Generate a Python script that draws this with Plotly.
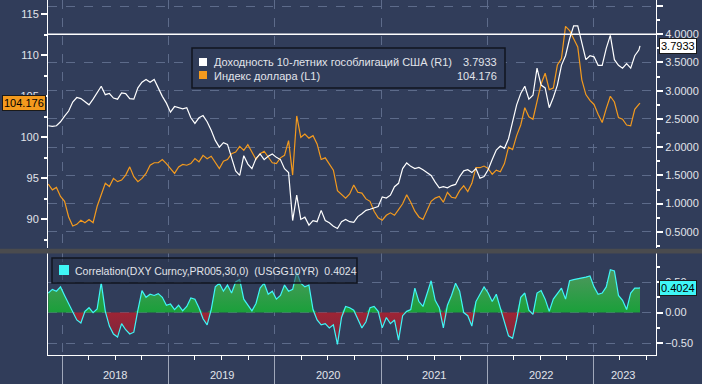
import plotly.graph_objects as go
import pandas as pd
import numpy as np

# ---------------- data (~2-week spacing) ----------------
start_date = "2017-11-13"
last_date = "2023-06-09"

dxy = [
    94.3, 93.6, 93.9, 92.8, 92.2, 90.3, 89.2, 89.4, 89.9, 89.6,
    90.0, 89.6, 91.6, 92.9, 94.4, 94.0, 95.0, 94.6, 94.8, 95.4,
    96.4, 95.2, 94.6, 95.0, 95.6, 96.6, 96.9, 96.9, 97.3, 96.8,
    96.2, 95.6, 96.4, 96.7, 96.6, 96.8, 97.4, 97.0, 97.8, 97.4,
    97.7, 96.9, 96.2, 97.1, 97.3, 98.0, 98.2, 98.9, 98.4, 99.1,
    98.1, 97.3, 98.0, 98.3, 97.6, 96.9, 96.8, 97.5, 97.8, 99.6,
    95.4, 102.6, 100.0, 100.4, 99.9, 100.2, 99.2, 97.3, 97.5, 96.8,
    96.0, 93.5, 93.0, 92.6, 93.1, 94.2, 93.3, 93.2, 92.5, 92.2,
    91.0, 90.2, 89.9, 90.5, 90.8, 90.5, 91.2, 91.9, 93.0, 92.1,
    91.0, 90.3, 90.0, 91.0, 92.2, 92.6, 92.8, 92.1, 93.3, 92.7,
    92.6, 93.5, 94.1, 93.4, 94.4, 96.3, 96.3, 96.5, 96.2, 95.5,
    96.0, 95.8, 96.8, 98.8, 98.5, 100.2, 101.5, 103.6, 102.5, 102.2,
    104.5, 106.5, 107.8, 105.8, 106.0, 108.8, 109.6, 113.5, 113.0, 111.9,
    111.0, 107.0, 105.2, 104.5, 104.0, 102.8, 101.8, 103.5, 105.0, 104.3,
    102.4, 102.2, 101.5, 101.4, 103.4, 104.0,
    104.176,
]

ust10 = [
    2.38, 2.37, 2.38, 2.45, 2.55, 2.64, 2.80, 2.88, 2.86, 2.80,
    2.75, 2.85, 2.96, 3.08, 2.93, 2.95, 2.87, 2.85, 2.96, 2.95,
    2.86, 2.85, 3.05, 3.15, 3.20, 3.15, 3.20, 3.04, 2.90, 2.78,
    2.62, 2.72, 2.70, 2.68, 2.70, 2.52, 2.42, 2.52, 2.56, 2.45,
    2.30, 2.12, 2.00, 2.08, 2.05, 1.80, 1.58, 1.50, 1.85, 1.70,
    1.62, 1.80, 1.88, 1.78, 1.84, 1.88, 1.82, 1.78, 1.62, 1.55,
    0.70, 1.15, 0.72, 0.76, 0.62, 0.70, 0.68, 0.88, 0.70, 0.66,
    0.60, 0.56, 0.68, 0.72, 0.68, 0.67, 0.77, 0.82, 0.88, 0.90,
    0.92, 0.95, 1.12, 1.10, 1.15, 1.30, 1.36, 1.62, 1.72, 1.66,
    1.62, 1.64, 1.60, 1.55, 1.50, 1.38, 1.28, 1.30, 1.28, 1.32,
    1.34, 1.48, 1.58, 1.60, 1.55, 1.62, 1.45, 1.48, 1.60, 1.78,
    1.95, 2.02, 1.98, 2.15, 2.45, 2.75, 2.95, 3.08, 2.85, 2.92,
    3.40, 3.10, 3.05, 2.70, 2.88, 3.10, 3.45, 3.62, 3.92, 4.15,
    4.15, 3.82, 3.55, 3.62, 3.60, 3.45, 3.45, 3.75, 3.98, 3.55,
    3.45, 3.40, 3.48, 3.40, 3.62, 3.72,
    3.7933,
]

corr = [
    0.32, 0.38, 0.35, 0.42, 0.28, 0.15, 0.00, -0.12, -0.17, 0.02,
    0.08, 0.00, 0.06, 0.49, 0.02, -0.22, -0.35, -0.40, -0.18, -0.28,
    -0.35, -0.32, 0.04, 0.36, 0.25, 0.30, 0.28, 0.31, 0.25, 0.12,
    0.14, 0.05, 0.12, 0.03, 0.10, 0.24, 0.22, 0.08, -0.10, -0.20,
    0.05, 0.42, 0.48, 0.35, 0.45, 0.32, 0.50, 0.54, 0.22, 0.12,
    0.03, 0.15, 0.40, 0.48, 0.30, 0.35, 0.22, 0.28, 0.45, 0.35,
    0.38, 0.66, 0.48, 0.42, 0.45, 0.05, -0.12, -0.20, -0.18, -0.25,
    -0.20, -0.52, -0.08, 0.10, 0.08, 0.04, -0.10, -0.25, -0.15, 0.08,
    0.10, 0.02, -0.25, -0.08, -0.18, -0.12, -0.45, -0.05, 0.02, 0.05,
    0.40, 0.18, 0.10, 0.30, 0.52, 0.20, 0.08, -0.25, 0.12, 0.28,
    0.48, 0.35, 0.00, -0.05, -0.22, 0.18, 0.30, 0.42, 0.32, 0.18,
    0.30, 0.08, -0.15, -0.38, -0.42, -0.12, 0.25, 0.32, 0.04, -0.03,
    0.32, 0.36, 0.22, 0.02, 0.22, 0.32, 0.40, 0.22, 0.52, 0.54,
    0.55, 0.56, 0.58, 0.60, 0.42, 0.30, 0.32, 0.42, 0.70, 0.68,
    0.28, 0.20, 0.05, 0.32, 0.40, 0.40,
    0.4024,
]

years = ["2018", "2019", "2020", "2021", "2022", "2023"]
year_starts = [f"{y}-01-01" for y in years]
year_label_pos = ["2018-07-02", "2019-07-02", "2020-07-02", "2021-07-02", "2022-07-02", "2023-04-13"]
quarter_ticks = [f"{y}-{m}-01" for y in range(2018, 2024) for m in ("04", "07", "10")]

legend_ust = "Доходность 10-летних гособлигаций США (R1)"
legend_dxy = "Индекс доллара (L1)"
legend_corr = "Correlation(DXY Curncy,PR005,30,0)  (USGG10YR)  0.4024"
last_ust = "3.7933"
last_dxy = "104.176"
last_corr = "0.4024"

n = min(len(dxy), len(ust10), len(corr))
dxy, ust10, corr = dxy[:n], ust10[:n], corr[:n]
dates = list(pd.date_range(start_date, periods=n - 1, freq="14D")) + [pd.Timestamp(last_date)]

# ---------------- style ----------------
BG = "#313d5a"
GRID = "#5d6b8a"
TXT = "#e1e4ea"
ORANGE = "#f39a1e"
CYAN = "#3ff6f6"
FONT = "Liberation Sans"

W, H = 702, 384
L, R, T, B = 48, 46, 0, 29
PW, PH = W - L - R, H - T - B


def px(x):
    return (x - L) / PW


def py(y):
    return (H - B - y) / PH


fig = go.Figure()

# top panel
fig.add_trace(go.Scatter(x=dates, y=dxy, xaxis="x2", yaxis="y", mode="lines",
                         line=dict(color=ORANGE, width=1.2), hoverinfo="skip"))
fig.add_trace(go.Scatter(x=dates, y=ust10, xaxis="x2", yaxis="y2", mode="lines",
                         line=dict(color="white", width=1.2), hoverinfo="skip"))

# bottom panel
c = np.array(corr)
fig.add_trace(go.Scatter(
    x=dates, y=np.maximum(c, 0), xaxis="x", yaxis="y3", mode="lines",
    fill="tozeroy", fillcolor="rgb(46,152,66)",
    fillgradient=dict(type="vertical", start=0, stop=0.72,
                      colorscale=[[0, "rgb(26,160,58)"], [1, "rgb(82,150,96)"]]),
    line=dict(width=0), hoverinfo="skip"))
fig.add_trace(go.Scatter(
    x=dates, y=np.minimum(c, 0), xaxis="x", yaxis="y3", mode="lines",
    fill="tozeroy", fillcolor="rgb(140,36,52)",
    fillgradient=dict(type="vertical", start=-0.55, stop=0,
                      colorscale=[[0, "rgb(110,40,66)"], [1, "rgb(158,36,52)"]]),
    line=dict(width=0), hoverinfo="skip"))
fig.add_trace(go.Scatter(x=dates, y=corr, xaxis="x", yaxis="y3", mode="lines",
                         line=dict(color=CYAN, width=1.2), hoverinfo="skip"))

x_range = ["2017-11-12", "2023-08-03"]
tickfont = dict(family=FONT, size=11, color=TXT)

fig.update_layout(
    width=W, height=H,
    margin=dict(l=L, r=R, t=T, b=B, autoexpand=False),
    paper_bgcolor=BG, plot_bgcolor=BG,
    showlegend=False,
    font=dict(family=FONT, size=11, color=TXT),
    xaxis=dict(
        type="date", range=x_range, domain=[0, 1], anchor="y3",
        showline=True, linecolor="white", linewidth=1,
        tickmode="array", tickvals=year_starts, showticklabels=False,
        ticks="outside", ticklen=29, tickcolor="#a0a8ba", tickwidth=1,
        showgrid=True, gridcolor=GRID, griddash="dash", gridwidth=1,
        minor=dict(tickmode="array", tickvals=quarter_ticks, ticks="outside",
                   ticklen=4, tickcolor="white", tickwidth=1, showgrid=False),
        zeroline=False,
    ),
    xaxis2=dict(
        type="date", range=x_range, domain=[0, 1], anchor="y", matches="x",
        showline=False, tickmode="array", tickvals=year_starts,
        showticklabels=False, ticks="",
        showgrid=True, gridcolor=GRID, griddash="dash", gridwidth=1,
        zeroline=False,
    ),
    yaxis=dict(
        domain=[py(248), 1], anchor="x2", side="left",
        range=[86.52, 116.72], tickmode="array", tickvals=[90, 95, 100, 105, 110, 115],
        ticks="outside", ticklen=6, tickwidth=2, tickcolor="white",
        showline=True, linecolor="white", linewidth=1,
        showgrid=False, zeroline=False, tickfont=tickfont,
        minor=dict(tickmode="linear", tick0=87.5, dtick=5, ticks="outside",
                   ticklen=3, tickcolor="white", showgrid=False),
    ),
    yaxis2=dict(
        domain=[py(248), 1], anchor="x2", overlaying="y", side="right",
        range=[0.214, 4.607], tickmode="linear", tick0=0, dtick=0.5, tickformat=".4f",
        ticks="outside", ticklen=6, tickwidth=2, tickcolor="white",
        showline=True, linecolor="white", linewidth=1,
        showgrid=True, gridcolor=GRID, griddash="dash", gridwidth=1,
        zeroline=False, tickfont=tickfont,
        minor=dict(tickmode="linear", tick0=0.25, dtick=0.5, ticks="outside",
                   ticklen=3, tickcolor="white", showgrid=False),
    ),
    yaxis3=dict(
        domain=[0, py(253)], anchor="x", side="right",
        range=[-0.693, 0.974], tickmode="array", tickvals=[-0.5, 0, 0.5], tickformat=".2f",
        ticks="outside", ticklen=6, tickwidth=2, tickcolor="white",
        showline=True, linecolor="white", linewidth=1, mirror=True,
        showgrid=True, gridcolor=GRID, griddash="dash", gridwidth=1,
        zeroline=False, tickfont=tickfont,
        minor=dict(tickmode="array", tickvals=[-0.25, 0.25, 0.75], ticks="outside",
                   ticklen=3, tickcolor="white", showgrid=False),
    ),
)

shapes = [
    # white reference line at 4.0 (right scale)
    dict(type="line", xref="paper", x0=0, x1=1, yref="y2", y0=4.0, y1=4.0,
         line=dict(color="white", width=1.5)),
    # separator between panels
    dict(type="rect", xref="paper", x0=-L / PW, x1=1 + R / PW, yref="paper",
         y0=py(253.5), y1=py(248.8), fillcolor="#4a4b4e", line=dict(width=0)),
    # top legend box
    dict(type="rect", xref="paper", yref="paper", x0=px(192), x1=px(505),
         y0=py(88), y1=py(48), fillcolor=BG, line=dict(color="#10151f", width=1.5)),
    dict(type="rect", xref="paper", yref="paper", x0=px(199), x1=px(207),
         y0=py(66), y1=py(58), fillcolor="white", line=dict(width=0)),
    dict(type="rect", xref="paper", yref="paper", x0=px(199), x1=px(207),
         y0=py(79), y1=py(71), fillcolor=ORANGE, line=dict(width=0)),
    # bottom legend box
    dict(type="rect", xref="paper", yref="paper", x0=px(52), x1=px(357),
         y0=py(283), y1=py(258), fillcolor="rgba(40,52,78,0.55)",
         line=dict(color="#10151f", width=1.5)),
    dict(type="rect", xref="paper", yref="paper", x0=px(59), x1=px(69),
         y0=py(275), y1=py(265), fillcolor=CYAN, line=dict(width=0)),
]
fig.update_layout(shapes=shapes)

ann = [
    dict(xref="paper", yref="paper", x=px(212), y=py(62.5), xanchor="left", yanchor="middle",
         text=legend_ust, showarrow=False, font=dict(family=FONT, size=11, color=TXT)),
    dict(xref="paper", yref="paper", x=px(499), y=py(62.5), xanchor="right", yanchor="middle",
         text=last_ust, showarrow=False, font=dict(family=FONT, size=11, color=TXT)),
    dict(xref="paper", yref="paper", x=px(212), y=py(75.5), xanchor="left", yanchor="middle",
         text=legend_dxy, showarrow=False, font=dict(family=FONT, size=11, color=TXT)),
    dict(xref="paper", yref="paper", x=px(499), y=py(75.5), xanchor="right", yanchor="middle",
         text=last_dxy, showarrow=False, font=dict(family=FONT, size=11, color=TXT)),
    dict(xref="paper", yref="paper", x=px(73), y=py(270.5), xanchor="left", yanchor="middle",
         text=legend_corr, showarrow=False, font=dict(family=FONT, size=10.5, color=TXT)),
    # price tags
    dict(xref="paper", yref="y", x=px(46), y=dxy[-1], xanchor="right", yanchor="middle",
         text=last_dxy, showarrow=False, bgcolor=ORANGE, bordercolor="#1a1a1a", borderwidth=1,
         borderpad=1, font=dict(family=FONT, size=11, color="black")),
    dict(xref="paper", yref="y2", x=px(659), y=ust10[-1], xanchor="left", yanchor="middle",
         text=last_ust, showarrow=False, bgcolor="white", bordercolor="#1a1a1a", borderwidth=1,
         borderpad=1, font=dict(family=FONT, size=11, color="black")),
    dict(xref="paper", yref="y3", x=px(659), y=corr[-1], xanchor="left", yanchor="middle",
         text=last_corr, showarrow=False, bgcolor=CYAN, bordercolor="#1a1a1a", borderwidth=1,
         borderpad=1, font=dict(family=FONT, size=11, color="black")),
]
for lbl, pos in zip(years, year_label_pos):
    ann.append(dict(xref="x", yref="paper", x=pos, y=py(375), xanchor="center", yanchor="middle",
                    text=lbl, showarrow=False, font=dict(family=FONT, size=11, color=TXT)))
fig.update_layout(annotations=ann)

fig.write_html("out.html", config={"displayModeBar": False})

# remove the default page margin so the figure fills the window exactly
with open("out.html", "r", encoding="utf-8") as f:
    html = f.read()
html = html.replace("<head>", "<head><style>html,body{margin:0;padding:0;overflow:hidden;}</style>", 1)
with open("out.html", "w", encoding="utf-8") as f:
    f.write(html)
